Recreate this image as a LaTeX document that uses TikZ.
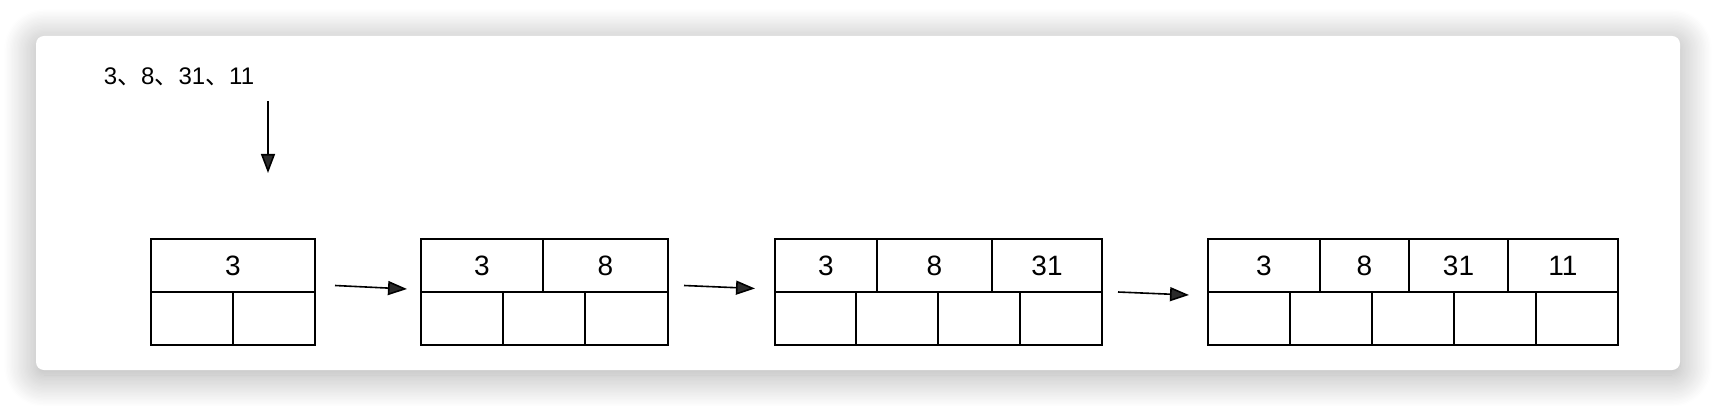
\documentclass[tikz,border=0pt]{standalone}
\usepackage{fontspec}
\setmainfont{Liberation Sans}
\newfontfamily\cjk{Noto Sans CJK SC}
\usetikzlibrary{arrows.meta,shadows.blur}
\begin{document}
\begin{tikzpicture}[x=0.5pt, y=-0.5pt,
        frame/.style={draw, line width=1.1pt},
        cell/.style={draw, line width=0.75pt},
        num/.style={font=\fontsize{14}{16}\selectfont, inner sep=0pt},
        link/.style={line width=0.8pt, -{Triangle[length=9.5pt, width=7pt]}}]
            \useasboundingbox (0, 0) rectangle (1716, 406);
            \fill[white, rounded corners=4pt, blur shadow={shadow xshift=0pt, shadow yshift=-2.5pt, shadow blur radius=16pt, shadow opacity=34, shadow blur steps=24}] (36, 36) rectangle (1680, 370);
            \node[font=\fontsize{12}{14}\selectfont, inner sep=0pt] (keys) at (179, 77) {3{\cjk 、}8{\cjk 、}31{\cjk 、}11};
            \coordinate (in0) at (268, 101);
            \coordinate (in1) at (268, 173);
            \draw[link] (in0) -- (in1);
            \draw[frame] (151, 239) rectangle (315, 345);
            \draw[frame] (151, 292) -- (315, 292);
            \draw[cell] (233, 292) -- (233, 345);
            \node[num] (s1a) at (233, 266) {3};
            \coordinate (a1) at (335, 285.5);
            \coordinate (b1) at (407, 289);
            \draw[link] (a1) -- (b1);
            \draw[frame] (421, 239) rectangle (668, 345);
            \draw[frame] (421, 292) -- (668, 292);
            \draw[cell] (543, 239) -- (543, 292);
            \draw[cell] (503, 292) -- (503, 345);
            \draw[cell] (585, 292) -- (585, 345);
            \node[num] (s2a) at (482, 266) {3};
            \node[num] (s2b) at (605.5, 266) {8};
            \coordinate (a2) at (684, 285.5);
            \coordinate (b2) at (755, 288.5);
            \draw[link] (a2) -- (b2);
            \draw[frame] (775, 239) rectangle (1102, 345);
            \draw[frame] (775, 292) -- (1102, 292);
            \draw[cell] (877, 239) -- (877, 292);
            \draw[cell] (992, 239) -- (992, 292);
            \draw[cell] (856, 292) -- (856, 345);
            \draw[cell] (938, 292) -- (938, 345);
            \draw[cell] (1020, 292) -- (1020, 345);
            \node[num] (s3a) at (826, 266) {3};
            \node[num] (s3b) at (934.5, 266) {8};
            \node[num] (s3c) at (1047, 266) {31};
            \coordinate (a3) at (1118, 292);
            \coordinate (b3) at (1189, 295);
            \draw[link] (a3) -- (b3);
            \draw[frame] (1208, 239) rectangle (1618, 345);
            \draw[frame] (1208, 292) -- (1618, 292);
            \draw[cell] (1320, 239) -- (1320, 292);
            \draw[cell] (1409, 239) -- (1409, 292);
            \draw[cell] (1508, 239) -- (1508, 292);
            \draw[cell] (1290, 292) -- (1290, 345);
            \draw[cell] (1372, 292) -- (1372, 345);
            \draw[cell] (1454, 292) -- (1454, 345);
            \draw[cell] (1536, 292) -- (1536, 345);
            \node[num] (s4a) at (1264, 266) {3};
            \node[num] (s4b) at (1364.5, 266) {8};
            \node[num] (s4c) at (1458.5, 266) {31};
            \node[num] (s4d) at (1563, 266) {11};
        \end{tikzpicture}
\end{document}
